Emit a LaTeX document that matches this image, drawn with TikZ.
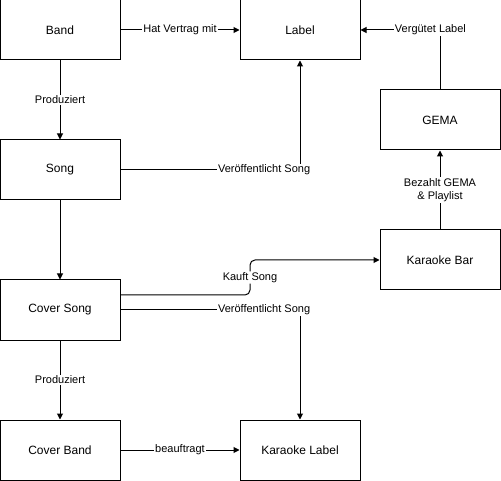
\documentclass[tikz,border=0pt]{standalone}
\usepackage{fontspec}
\setmainfont{Liberation Sans}
\usetikzlibrary{arrows.meta}

\begin{document}
\begin{tikzpicture}[x=1pt, y=-1pt, line width=1pt,
  box/.style = {draw, minimum width=120pt, minimum height=60pt,
    inner sep=0pt, font=\fontsize{12}{14}\selectfont},
  lbl/.style = {fill=white, inner sep=1pt, align=center,
    font=\fontsize{11}{13}\selectfont},
  conn/.style = {-{Triangle[length=6pt,width=6pt]}}]
  \useasboundingbox (0,0) rectangle (501,481);

  \node[box] (band) at (60,30) {Band};
  \node[box] (label) at (300,30) {Label};
  \node[box] (gema) at (440,120) {GEMA};
  \node[box] (song) at (60,170) {Song};
  \node[box] (kbar) at (440,260) {Karaoke Bar};
  \node[box] (cover) at (60,310) {Cover Song};
  \node[box] (coverband) at (60,450) {Cover Band};
  \node[box] (klabel) at (300,450) {Karaoke Label};

  \coordinate (kauft) at ([yshift=15pt]cover.east);

  \draw[conn] (band) -- node[lbl] {Hat Vertrag mit} (label);
  \draw[conn] (band) -- node[lbl] {Produziert} (song);
  \draw[conn] (song.east) -| node[lbl, pos=0.4] {Veröffentlicht Song} (label.south);
  \draw[conn] (song) -- (cover);
  \draw[conn, rounded corners=5pt] (kauft) -- (250,295)
    -- node[lbl, pos=0.5] {Kauft Song} (250,260) -- (kbar.west);
  \draw[conn] (cover.east) -| node[lbl, pos=0.4] {Veröffentlicht Song} (klabel.north);
  \draw[conn] (cover) -- node[lbl] {Produziert} (coverband);
  \draw[conn] (coverband) -- node[lbl] {beauftragt} (klabel);
  \draw[conn] (kbar) -- node[lbl] {Bezahlt GEMA\\\& Playlist} (gema);
  \draw[conn] (gema.north) |- node[lbl, pos=0.56] {Vergütet Label} (label.east);
\end{tikzpicture}
\end{document}
